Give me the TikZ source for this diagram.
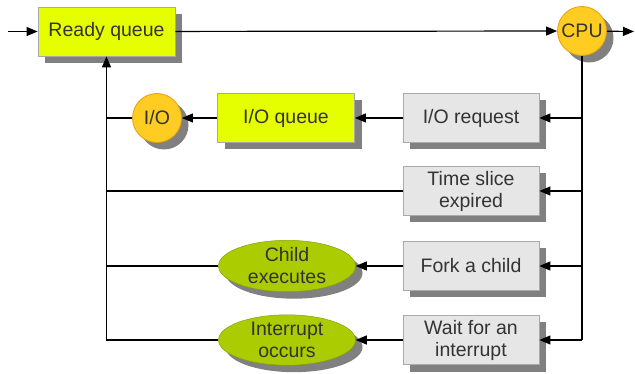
\documentclass[tikz,border=0pt]{standalone}
\usepackage{fontspec}
\setmainfont{Liberation Sans}
\usetikzlibrary{arrows.meta,shapes.geometric,shadows}
\definecolor{lime}{HTML}{E6FF00}
\definecolor{limeborder}{HTML}{A8A8A8}
\definecolor{cpuorange}{HTML}{FFCC22}
\definecolor{cpuborder}{HTML}{E8A010}
\definecolor{boxgray}{HTML}{E6E6E6}
\definecolor{boxborder}{HTML}{AAAAAA}
\definecolor{olive}{HTML}{AACC00}
\definecolor{shadowgray}{HTML}{808080}
\definecolor{txt}{HTML}{333333}
\begin{document}
\begin{tikzpicture}[x=1pt,y=-1pt,
  shad/.style={drop shadow={shadow xshift=7pt,shadow yshift=-7pt,fill=shadowgray,opacity=1}},
  lbl/.style={font=\fontsize{19.5}{22}\selectfont,text=txt,align=center,inner sep=0pt},
  limebox/.style={lbl,rectangle,shad,fill=lime,draw=limeborder,line width=0.8pt,minimum width=137pt,minimum height=49pt},
  graybox/.style={lbl,rectangle,shad,fill=boxgray,draw=boxborder,line width=0.8pt,minimum width=136pt,minimum height=49pt},
  circ/.style={lbl,circle,shad,fill=cpuorange,draw=cpuborder,line width=0.8pt,minimum size=49pt},
  oval/.style={lbl,ellipse,shad,fill=olive,draw=olive!80!black,line width=0.5pt,minimum width=137pt,minimum height=48pt},
  conn/.style={line width=1.2pt,draw=black},
  arr/.style={conn,-{Triangle[length=11pt,width=9pt]}}]
\useasboundingbox (0,0) rectangle (635,374);
\node[limebox] (ready) at (106.5,31.5) {Ready queue};
\node[circ] (cpu) at (582,31) {CPU};
\node[graybox] (ioreq) at (471,118) {I/O request};
\node[limebox] (ioq) at (286,118) {I/O queue};
\node[circ] (io) at (157,118) {I/O};
\node[graybox] (slice) at (471,191) {Time slice\\expired};
\node[graybox] (fork) at (471,266) {Fork a child};
\node[oval] (child) at (287,266) {Child\\executes};
\node[graybox] (wait) at (471,340) {Wait for an\\interrupt};
\node[oval] (intr) at (287,340) {Interrupt\\occurs};
\coordinate (start) at (8,31.5);
\coordinate (out) at (634,31.5);
\coordinate (r1) at (582,118);
\coordinate (r2) at (582,191);
\coordinate (r3) at (582,266);
\coordinate (r4) at (582,340);
\coordinate (l1) at (106.5,118);
\coordinate (l2) at (106.5,191);
\coordinate (l3) at (106.5,266);
\coordinate (l4) at (106.5,340);
\draw[arr] (start) -- (ready);
\draw[arr] (ready) -- (cpu);
\draw[arr] (cpu) -- (out);
\draw[conn] (cpu.south) -- (r4);
\draw[arr] (r1) -- (ioreq);
\draw[arr] (r2) -- (slice);
\draw[arr] (r3) -- (fork);
\draw[arr] (r4) -- (wait);
\draw[arr] (ioreq) -- (ioq);
\draw[arr] (ioq) -- (io);
\draw[arr] (fork) -- (child);
\draw[arr] (wait) -- (intr);
\draw[conn] (io) -- (l1);
\draw[conn] (slice) -- (l2);
\draw[conn] (child) -- (l3);
\draw[arr] (intr) -- (l4) -- (ready.south);
\end{tikzpicture}
\end{document}
